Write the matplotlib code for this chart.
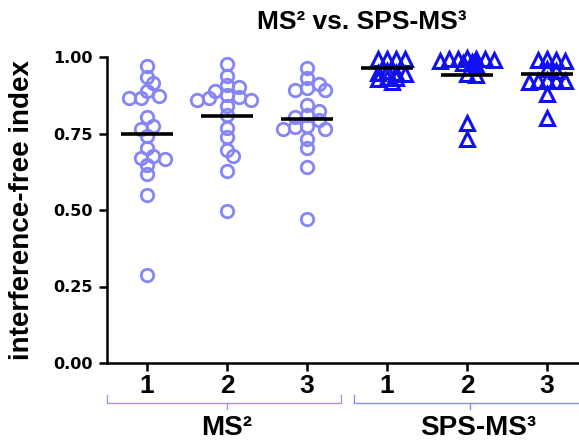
import numpy as np
import matplotlib
matplotlib.use("Agg")
import matplotlib.pyplot as plt
import matplotlib.transforms as mtransforms

# ---- data ----
group_labels = ["1", "2", "3", "1", "2", "3"]
ms2_1 = [0.970, 0.936, 0.914, 0.889, 0.874, 0.867, 0.867, 0.805, 0.776, 0.765,
         0.743, 0.703, 0.678, 0.670, 0.667, 0.648, 0.618, 0.550, 0.288]
ms2_2 = [0.976, 0.938, 0.908, 0.902, 0.889, 0.875, 0.870, 0.865, 0.860, 0.858,
         0.839, 0.809, 0.769, 0.738, 0.697, 0.675, 0.629, 0.497]
ms2_3 = [0.963, 0.930, 0.913, 0.900, 0.892, 0.891, 0.842, 0.825, 0.812, 0.803,
         0.793, 0.775, 0.770, 0.766, 0.766, 0.732, 0.701, 0.639, 0.470]
sps_1 = [0.993, 0.993, 0.993, 0.993, 0.955, 0.948, 0.948, 0.945, 0.932, 0.930,
         0.928, 0.917]
sps_2 = [0.998, 0.995, 0.995, 0.993, 0.993, 0.990, 0.988, 0.985, 0.980, 0.975,
         0.945, 0.940, 0.783, 0.732]
sps_3 = [0.993, 0.990, 0.990, 0.988, 0.960, 0.955, 0.925, 0.923, 0.922, 0.920,
         0.918, 0.878, 0.801]
center_lines = [0.749, 0.807, 0.798, 0.963, 0.941, 0.946]
ytick_vals = [0.00, 0.25, 0.50, 0.75, 1.00]
ytick_labels = ["0.00", "0.25", "0.50", "0.75", "1.00"]

groups = [ms2_1, ms2_2, ms2_3, sps_1, sps_2, sps_3]

W, H = 579, 442
fig = plt.figure(figsize=(W / 100, H / 100), dpi=100)
ax_l, ax_r, ax_t, ax_b = 107, 579, 57, 363
ax = fig.add_axes([ax_l / W, 1 - ax_b / H, (ax_r - ax_l) / W, (ax_b - ax_t) / H])
ax.set_xlim(-0.5, 5.4)
ax.set_ylim(0, 1.0)

px_x = (ax_r - ax_l) / 5.9   # pixels per x unit
px_y = (ax_b - ax_t) / 1.0   # pixels per y unit


def swarm(vals, diam_px, step_px):
    """simple beeswarm offsets (x units)"""
    order = np.argsort(vals)[::-1]
    placed = []
    offs = np.zeros(len(vals))
    for i in order:
        y = vals[i] * px_y
        cands = [0]
        for n in range(1, 20):
            cands += [n * step_px, -n * step_px]
        for c in cands:
            ok = True
            for (px, py) in placed:
                if (px - c) ** 2 + (py - y) ** 2 < diam_px ** 2:
                    ok = False
                    break
            if ok:
                break
        placed.append((c, y))
        offs[i] = c / px_x
    return offs


circ_col = "#8585f5"
tri_col = "#1010f0"
for gi, vals in enumerate(groups):
    vals = np.asarray(vals)
    if gi < 3:
        offs = swarm(vals, 9.0, 6.0)
        ax.plot(gi + offs, vals, linestyle="none", marker="o", ms=9,
                mfc="none", mec=circ_col, mew=2.0, clip_on=False, zorder=3)
    else:
        offs = swarm(vals, 5.0, 4.5)
        ax.plot(gi + offs, vals, linestyle="none", marker="^", ms=10,
                mfc="none", mec=tri_col, mew=2.2, clip_on=False, zorder=3)
    ax.plot([gi - 0.33, gi + 0.33], [center_lines[gi]] * 2, color="black",
            lw=2.6, zorder=4, solid_capstyle="butt", clip_on=False)

# axes styling
for s in ["top", "right"]:
    ax.spines[s].set_visible(False)
for s in ["left", "bottom"]:
    ax.spines[s].set_linewidth(1.8)
ax.set_yticks(ytick_vals)
ax.set_yticklabels(ytick_labels, fontsize=11.5, fontweight="bold",
                   family="DejaVu Sans")
ax.set_xticks(range(6))
ax.set_xticklabels(group_labels, fontsize=19, fontweight="bold",
                   family="Liberation Sans")
ax.tick_params(axis="both", direction="out", width=1.8, length=6)
ax.tick_params(axis="y", pad=4)
ax.tick_params(axis="x", pad=2)
ax.set_ylabel("interference-free index", fontsize=20, fontweight="bold",
              family="Liberation Sans")
ax.yaxis.set_label_coords((35 - ax_l) / (ax_r - ax_l), 0.5)

fig.text(362 / W, 1 - 22 / H, "MS² vs. SPS-MS³", ha="center", va="center",
         fontsize=19, fontweight="bold", family="Liberation Sans")

# brackets
trans = mtransforms.blended_transform_factory(ax.transData, ax.transAxes)
def ypx(p):
    return (ax_b - p) / (ax_b - ax_t)

def bracket(x0, x1, xc, color):
    ax.plot([x0, x0, x1, x1], [ypx(395), ypx(403), ypx(403), ypx(395)],
            color=color, lw=1.0, transform=trans, clip_on=False)
    ax.plot([xc, xc], [ypx(403), ypx(409)], color=color, lw=1.0,
            transform=trans, clip_on=False)

bracket(-0.5, 2.425, 1.0, "#b48fd8")
bracket(2.59, 5.6, 4.04, "#8a8ef4")
ax.text(1.0, ypx(428), "MS²", transform=trans, ha="center", va="center",
        fontsize=20, fontweight="bold", family="Liberation Sans")
ax.text(4.14, ypx(428), "SPS-MS³", transform=trans, ha="center", va="center",
        fontsize=20, fontweight="bold", family="Liberation Sans")

fig.savefig("out.png", dpi=100)
